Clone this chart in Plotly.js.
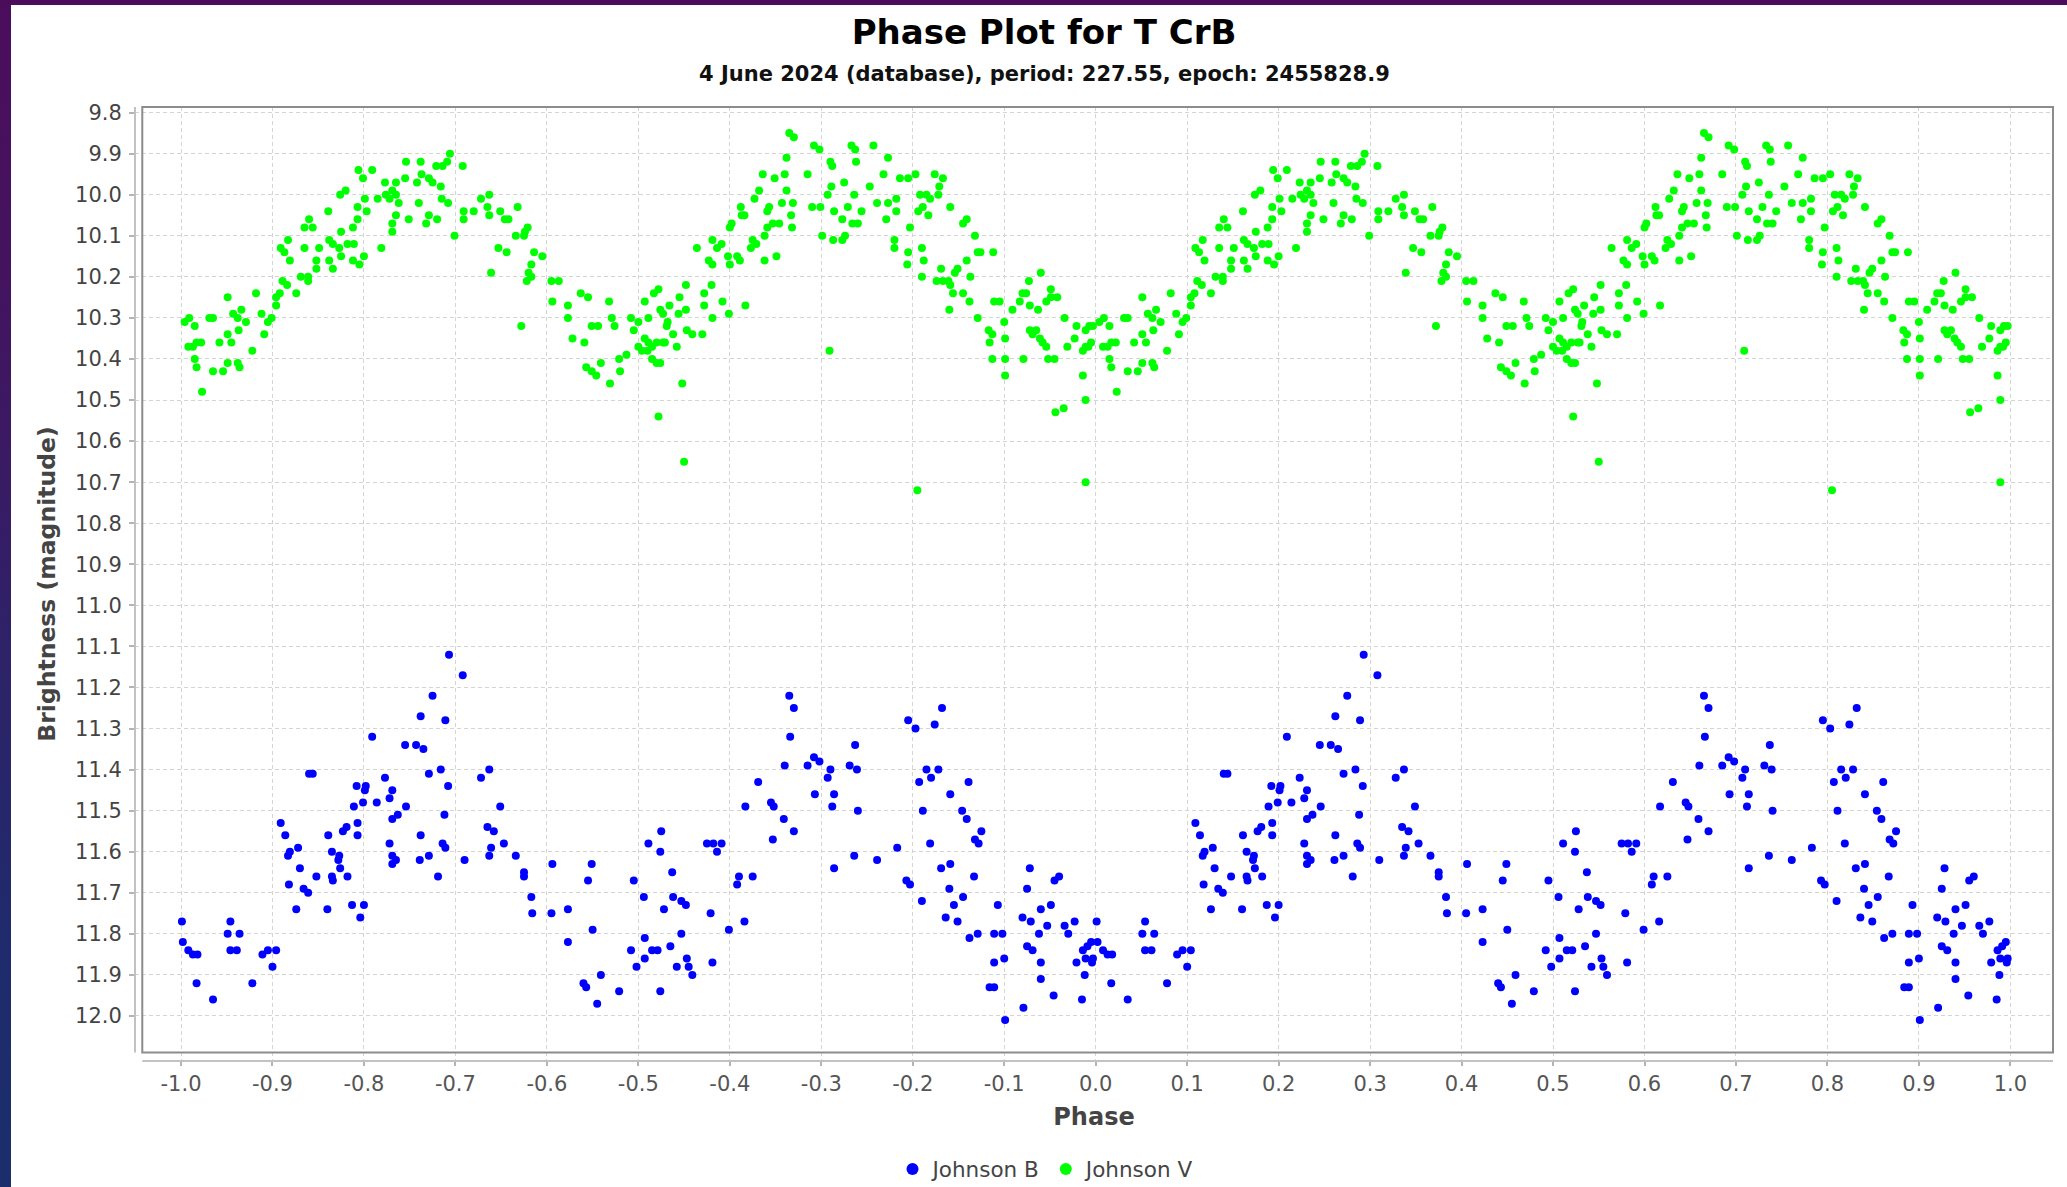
<!DOCTYPE html>
<html>
<head>
<meta charset="utf-8">
<script src="https://cdn.plot.ly/plotly-3.0.1.min.js"></script>
<style>
  html, body { margin: 0; padding: 0; width: 2067px; height: 1187px; overflow: hidden; }
  body { background: linear-gradient(180deg, #4b0d5b 0%, #43145f 25%, #2e2268 55%, #1f2b6c 80%, #1b2e6b 100%); position: relative; }
  #paper { position: absolute; left: 11px; top: 5px; right: 0; bottom: 0; background: #ffffff; }
  #chart { position: absolute; left: 0; top: 0; width: 2067px; height: 1187px; }
</style>
</head>
<body>
<div id="paper"></div>
<div id="chart"></div>
<script>
// ---- Data: one cycle (phase 0..1) ----
const chartTitle = "Phase Plot for T CrB";
const chartSubtitle = "4 June 2024 (database), period: 227.55, epoch: 2455828.9";
const seriesNames = ["Johnson B", "Johnson V"];

const vPhase = [
0.294,0.291,0.308,0.286,0.279,0.262,0.246,0.263,0.245,0.258,0.271,0.275,0.284,0.285,0.292,0.328,0.337,0.335,0.337,0.320,
0.309,0.309,0.299,0.339,0.260,0.271,0.280,0.268,0.249,0.235,0.231,0.224,0.238,0.235,0.228,0.223,0.215,0.235,0.231,0.231,
0.219,0.209,0.194,0.199,0.201,0.193,0.203,0.193,0.188,0.180,0.174,0.161,0.175,0.166,0.162,0.173,0.182,0.189,0.162,0.166,
0.175,0.188,0.195,0.200,0.135,0.140,0.144,0.135,0.151,0.148,0.148,0.117,0.109,0.113,0.119,0.139,0.139,0.131,0.126,0.111,
0.116,0.108,0.104,0.104,0.099,0.095,0.082,0.088,0.091,0.078,0.051,0.057,0.062,0.066,0.071,0.063,0.051,0.055,0.042,0.031,
0.035,0.051,0.062,0.064,0.046,0.035,0.023,0.022,0.017,0.013,0.015,0.017,0.008,0.009,0.015,0.004,
0.349,0.354,0.358,0.368,0.347,0.356,0.366,0.375,0.379,0.376,0.386,0.395,0.383,0.380,0.378,0.383,0.372,0.405,0.413,0.406,
0.423,0.423,0.437,0.445,0.468,0.428,0.441,0.449,0.456,0.471,0.474,0.443,0.449,0.454,0.459,0.469,0.480,0.479,0.487,0.492,
0.500,0.495,0.507,0.511,0.500,0.504,0.507,0.511,0.515,0.510,0.515,0.520,0.524,0.520,0.527,0.529,0.517,0.522,0.524,0.527,
0.532,0.531,0.534,0.545,0.544,0.552,0.538,0.542,0.553,0.559,0.570,0.552,0.548,0.522,0.550,0.564,0.572,0.580,0.572,0.581,
0.592,0.599,0.617,0.577,0.581,0.581,0.586,0.591,0.598,0.600,0.608,0.611,0.600,0.602,0.613,0.616,0.612,0.627,0.632,0.636,
0.623,0.629,0.625,0.638,0.641,0.647,0.654,0.638,0.651,0.641,0.643,0.657,0.662,0.669,0.667,0.668,0.649,0.660,0.662,0.665,
0.670,0.685,0.692,0.690,
0.698,0.733,0.737,0.738,0.757,0.773,0.768,0.710,0.712,0.725,0.711,0.707,0.736,0.753,0.699,0.714,0.723,0.729,0.734,0.740,
0.744,0.701,0.713,0.723,0.726,0.709,0.761,0.773,0.771,0.782,0.782,0.786,0.795,0.803,0.824,0.833,0.829,0.828,0.819,0.815,
0.808,0.811,0.806,0.817,0.797,0.780,0.780,0.795,0.794,0.810,0.812,0.810,0.841,0.855,0.859,0.868,0.871,0.874,0.888,0.859,
0.849,0.846,0.831,0.826,0.833,0.839,0.841,0.863,0.844,0.855,0.862,0.840,0.871,0.940,0.927,0.920,0.924,0.917,0.928,0.937,
0.951,0.958,0.946,0.951,0.889,0.895,0.909,0.966,0.979,0.989,0.993,0.997,0.900,0.883,0.887,0.884,0.901,0.901,0.887,0.921,
0.901,0.928,0.931,0.935,0.939,0.942,0.946,0.948,0.955,0.969,0.977,0.986,0.989,0.995,0.992,0.986,0.989,0.956,0.965,0.989,
0.805
];
const vMag = [
9.90,9.92,9.93,9.93,9.93,9.92,9.92,9.95,9.96,9.97,9.96,9.97,9.98,10.01,10.02,10.01,10.00,10.03,10.05,10.04,
10.04,10.06,10.10,10.19,10.02,10.05,10.06,10.07,10.06,9.97,9.99,10.00,10.02,10.00,10.01,9.97,10.01,10.05,10.07,10.09,
10.13,9.94,9.94,9.96,10.01,10.03,10.04,10.06,10.08,9.99,10.00,10.04,10.09,10.12,10.11,10.13,10.12,10.12,10.16,10.18,
10.15,10.16,10.17,10.15,10.08,10.06,10.08,10.13,10.13,10.16,10.18,10.11,10.13,10.14,10.16,10.20,10.21,10.20,10.24,10.21,
10.22,10.24,10.25,10.27,10.30,10.31,10.24,10.29,10.34,10.38,10.25,10.29,10.30,10.28,10.31,10.33,10.34,10.36,10.36,10.30,
10.30,10.41,10.41,10.42,10.43,10.43,10.48,10.36,10.36,10.37,10.40,10.42,10.37,10.30,10.32,10.31,
10.04,10.06,10.06,10.03,10.13,10.14,10.10,10.10,10.08,10.09,10.14,10.15,10.17,10.19,10.21,10.20,10.32,10.21,10.21,10.26,
10.27,10.30,10.24,10.25,10.26,10.35,10.36,10.32,10.32,10.30,10.32,10.42,10.43,10.44,10.41,10.46,10.43,10.40,10.39,10.30,
10.31,10.33,10.26,10.30,10.37,10.38,10.35,10.36,10.37,10.38,10.40,10.41,10.41,10.36,10.36,10.36,10.24,10.23,10.28,10.29,
10.31,10.32,10.27,10.25,10.29,10.28,10.34,10.37,10.33,10.34,10.34,10.22,10.46,10.54,10.65,10.13,10.24,10.22,10.27,10.30,
10.26,10.29,10.27,10.16,10.17,10.11,10.13,10.12,10.15,10.17,10.15,10.16,10.08,10.07,10.05,10.05,10.03,10.01,9.99,9.95,
10.13,10.12,10.11,10.10,10.08,10.07,10.07,10.16,10.15,10.04,10.03,10.02,9.99,10.02,10.05,10.08,9.96,9.95,9.91,9.85,
9.86,9.95,9.88,10.03,
9.89,9.88,9.89,9.92,9.88,9.91,9.95,9.92,9.93,9.97,9.98,10.00,10.00,9.98,10.03,10.04,10.06,10.03,10.07,10.07,
10.04,10.10,10.11,10.11,10.10,10.38,10.02,10.02,10.06,10.01,10.04,9.96,9.96,9.95,9.95,9.96,9.98,10.00,10.01,10.00,
10.00,10.03,10.04,10.05,10.08,10.11,10.13,10.14,10.17,10.13,10.16,10.20,10.03,10.07,10.06,10.10,10.14,10.14,10.14,10.16,
10.18,10.19,10.18,10.21,10.21,10.21,10.22,10.20,10.24,10.24,10.26,10.28,10.30,10.19,10.21,10.24,10.24,10.26,10.27,10.28,
10.23,10.25,10.26,10.25,10.26,10.26,10.28,10.30,10.32,10.33,10.32,10.32,10.31,10.33,10.34,10.36,10.35,10.40,10.40,10.40,
10.44,10.33,10.34,10.33,10.35,10.36,10.37,10.40,10.40,10.37,10.35,10.38,10.37,10.36,10.37,10.44,10.50,10.53,10.52,10.70,
10.72
];

const bPhase = [
0.293,0.308,0.275,0.262,0.289,0.209,0.245,0.257,0.265,0.140,0.144,0.271,0.284,0.292,0.328,0.337,0.223,0.231,0.228,0.246,
0.214,0.192,0.202,0.201,0.199,0.189,0.288,0.262,0.286,0.289,0.335,0.342,0.231,0.237,0.228,0.193,0.193,0.177,0.181,0.161,
0.109,0.114,0.128,0.119,0.117,0.165,0.173,0.172,0.174,0.182,0.165,0.166,0.148,0.130,0.118,0.134,0.139,0.126,0.160,0.187,
0.200,0.196,0.231,0.235,0.231,0.261,0.271,0.281,0.310,0.337,0.339,0.001,0.054,0.051,0.064,0.054,0.061,0.089,0.095,0.104,
0.100,0.078,0.035,0.017,0.002,0.008,0.013,0.018,
0.349,0.353,0.366,0.375,0.375,0.383,0.384,0.405,0.406,0.423,0.423,0.445,0.449,0.450,0.440,0.443,0.459,0.455,0.479,0.495,
0.506,0.511,0.525,0.524,0.537,0.528,0.538,0.547,0.552,0.507,0.492,0.498,0.507,0.515,0.521,0.535,0.547,0.524,0.542,0.553,
0.555,0.559,0.579,0.581,0.599,0.575,0.582,0.586,0.591,0.608,0.610,0.625,0.616,0.617,0.631,0.645,0.648,0.647,0.659,0.670,
0.660,0.666,0.665,0.670,0.685,0.692,0.693,
0.698,0.710,0.707,0.714,0.712,0.737,0.731,0.739,0.740,0.714,0.736,0.761,0.783,0.795,0.803,0.824,0.832,0.815,0.820,0.828,
0.807,0.811,0.861,0.841,0.854,0.859,0.875,0.868,0.872,0.819,0.793,0.797,0.810,0.831,0.841,0.867,0.840,0.845,0.855,0.836,
0.849,0.862,0.871,0.893,0.889,0.898,0.889,0.900,0.884,0.889,0.901,0.921,0.928,0.925,0.920,0.929,0.940,0.951,0.955,0.960,
0.938,0.947,0.925,0.931,0.940,0.940,0.954,0.966,0.970,0.977,0.986,0.991,0.995,0.979,0.989,0.997,0.996,0.988,0.985
];
const bMag = [
11.12,11.17,11.22,11.27,11.28,11.32,11.34,11.34,11.35,11.41,11.41,11.41,11.40,11.44,11.42,11.40,11.42,11.45,11.47,11.49,
11.48,11.44,11.44,11.45,11.48,11.49,11.51,11.56,11.58,11.59,11.54,11.55,11.52,11.51,11.58,11.53,11.56,11.55,11.54,11.56,
11.53,11.56,11.59,11.60,11.61,11.60,11.61,11.62,11.64,11.66,11.66,11.67,11.66,11.64,11.68,11.69,11.70,11.74,11.74,11.73,
11.73,11.76,11.61,11.62,11.63,11.62,11.61,11.66,11.62,11.61,11.59,11.77,11.77,11.80,11.80,11.84,11.84,11.85,11.84,11.84,
11.88,11.92,11.96,11.92,11.82,11.84,11.85,11.85,
11.49,11.58,11.61,11.65,11.66,11.71,11.75,11.75,11.63,11.74,11.82,11.67,11.63,11.79,11.92,11.93,11.90,11.97,11.94,11.67,
11.71,11.58,11.55,11.60,11.65,11.74,11.71,11.72,11.73,11.81,11.84,11.88,11.86,11.84,11.84,11.83,11.80,11.94,11.88,11.86,
11.88,11.90,11.75,11.87,11.79,11.58,11.58,11.60,11.58,11.68,11.66,11.66,11.77,11.49,11.43,11.48,11.49,11.57,11.52,11.55,
11.39,11.32,11.22,11.25,11.39,11.37,11.46,
11.38,11.40,11.42,11.46,11.49,11.34,11.39,11.40,11.50,11.64,11.61,11.62,11.59,11.28,11.30,11.29,11.25,11.40,11.42,11.40,
11.43,11.50,11.43,11.46,11.50,11.52,11.55,11.57,11.58,11.58,11.67,11.68,11.72,11.64,11.63,11.66,11.69,11.73,11.71,11.76,
11.77,11.81,11.80,11.73,11.80,11.80,11.87,11.86,11.93,11.93,12.01,11.98,11.64,11.69,11.76,11.77,11.74,11.73,11.67,11.66,
11.80,11.78,11.83,11.84,11.87,11.91,11.95,11.78,11.80,11.77,11.84,11.83,11.82,11.87,11.86,11.86,11.87,11.90,11.96
];

const xTickLabels = ["-1.0","-0.9","-0.8","-0.7","-0.6","-0.5","-0.4","-0.3","-0.2","-0.1","0.0",
                     "0.1","0.2","0.3","0.4","0.5","0.6","0.7","0.8","0.9","1.0"];
const yTickLabels = ["9.8","9.9","10.0","10.1","10.2","10.3","10.4","10.5","10.6","10.7","10.8","10.9",
                     "11.0","11.1","11.2","11.3","11.4","11.5","11.6","11.7","11.8","11.9","12.0"];

// A phase plot shows every observation twice: at its phase and at phase - 1.
function fold(ph) { return ph.concat(ph.map(p => +(p - 1).toFixed(3))); }
function twice(m) { return m.concat(m); }

const FONT = "DejaVu Sans, Verdana, sans-serif";

const traces = [
  { type: "scatter", mode: "markers", name: seriesNames[0],
    x: fold(bPhase), y: twice(bMag),
    marker: { color: "#0000ff", size: 8 }, hoverinfo: "x+y" },
  { type: "scatter", mode: "markers", name: seriesNames[1],
    x: fold(vPhase), y: twice(vMag),
    marker: { color: "#00ff00", size: 8 }, hoverinfo: "x+y" }
];

// border / axis-line geometry (paper fractions)
const bx = 0.0038, by = 0.0088;

const layout = {
  width: 2067, height: 1187,
  paper_bgcolor: "rgba(0,0,0,0)",
  plot_bgcolor: "#ffffff",
  margin: { l: 135, r: 14.4, t: 106.7, b: 126.3, pad: 0, autoexpand: false },
  font: { family: FONT, color: "#444444" },
  title: {
    text: chartTitle,
    font: { family: FONT, size: 34, weight: 700, color: "#000000" },
    x: 1044 / 2067, xref: "container", xanchor: "center",
    y: 1 - 31.6 / 1187, yref: "container", yanchor: "middle"
  },
  annotations: [{
    text: chartSubtitle, showarrow: false,
    xref: "paper", x: (1044 - 135) / 1917.6, xanchor: "center",
    yref: "paper", y: 1 + (106.7 - 73.8) / 954, yanchor: "middle",
    font: { family: FONT, size: 21, weight: 700, color: "#111111" }
  }],
  xaxis: {
    range: [-1.0503, 1.0466], autorange: false, automargin: false,
    tickmode: "array", tickvals: xTickLabels.map(Number), ticktext: xTickLabels,
    ticks: "outside", ticklen: 4, tickwidth: 1.5, tickcolor: "#b4b4b4",
    tickfont: { family: FONT, size: 21, color: "#555555" },
    showgrid: true, gridcolor: "#d4d4d4", gridwidth: 1.2, griddash: "4px,3px",
    zeroline: false, showline: false,
    title: { text: "Phase", standoff: 12, font: { family: FONT, size: 24, weight: 700, color: "#444444" } }
  },
  yaxis: {
    range: [12.1096, 9.7864], autorange: false, automargin: false,
    tickmode: "array", tickvals: yTickLabels.map(Number), ticktext: yTickLabels,
    ticks: "outside", ticklen: 5, tickwidth: 1.5, tickcolor: "#b4b4b4", ticklabelstandoff: 3,
    tickfont: { family: FONT, size: 21, color: "#444444" },
    showgrid: true, gridcolor: "#d4d4d4", gridwidth: 1.2, griddash: "4px,3px",
    zeroline: false, showline: false,
    title: { text: "Brightness (magnitude)", standoff: 12, font: { family: FONT, size: 23.5, weight: 700, color: "#444444" } }
  },
  showlegend: true,
  legend: {
    orientation: "h", xref: "container", x: 1046 / 2067, xanchor: "center",
    yref: "container", y: 1 - 1169 / 1187, yanchor: "middle",
    font: { family: FONT, size: 21.5, color: "#444444" }, itemsizing: "constant",
    bgcolor: "rgba(0,0,0,0)", traceorder: "normal"
  },
  shapes: [
    // cover gridline stubs between axis lines and plot border
    { type: "rect", xref: "paper", yref: "paper", x0: 0, x1: bx, y0: 0, y1: 1, layer: "between",
      fillcolor: "#ffffff", line: { width: 0 } },
    { type: "rect", xref: "paper", yref: "paper", x0: 0, x1: 1, y0: 0, y1: by, layer: "between",
      fillcolor: "#ffffff", line: { width: 0 } },
    // plot border
    { type: "rect", xref: "paper", yref: "paper", x0: bx, x1: 1, y0: by, y1: 1, layer: "above",
      line: { color: "#8c8c8c", width: 2 } },
    // offset axis lines
    { type: "line", xref: "paper", yref: "paper", x0: 0, x1: 0, y0: by, y1: 1,
      line: { color: "#c2c2c2", width: 2 } },
    { type: "line", xref: "paper", yref: "paper", x0: bx, x1: 1, y0: 0, y1: 0,
      line: { color: "#c2c2c2", width: 2 } }
  ]
};

Plotly.newPlot("chart", traces, layout, { displayModeBar: false, responsive: false });
</script>
</body>
</html>
